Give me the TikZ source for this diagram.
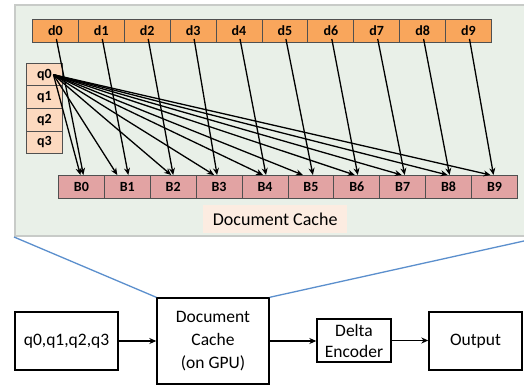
\documentclass[tikz,border=0pt]{standalone}
\usepackage{fontspec}
\setmainfont{Carlito}
\usetikzlibrary{arrows.meta,calc}
\definecolor{panelfill}{RGB}{233,240,232}
\definecolor{panelline}{RGB}{200,203,200}
\definecolor{dfill}{RGB}{249,166,92}
\definecolor{qfill}{RGB}{252,217,191}
\definecolor{bfill}{RGB}{226,163,163}
\definecolor{labfill}{RGB}{252,236,225}
\definecolor{cellline}{RGB}{80,80,80}
\definecolor{zoomblue}{RGB}{91,143,205}
\begin{document}
\begin{tikzpicture}[x=1pt,y=-1pt,
 cell/.style={draw=cellline, line width=0.9pt, minimum width=45.9pt, minimum height=23pt, inner sep=0pt, font=\fontsize{14}{16}\selectfont\bfseries, anchor=north west},
 dcell/.style={cell, fill=dfill},
 bcell/.style={cell, fill=bfill},
 qcell/.style={cell, fill=qfill, minimum width=36pt, minimum height=22.5pt},
 arr/.style={-{Stealth[length=7pt,width=6pt]}, line width=1.3pt},
 box/.style={draw, line width=1.4pt, font=\fontsize{17.5}{23}\selectfont, align=center, inner sep=0pt},
 flow/.style={-{Stealth[length=7pt,width=6pt]}, line width=1.4pt},
 zoomline/.style={draw=zoomblue, line width=1.3pt}]
\useasboundingbox (0,0) rectangle (524,385);
\fill[white] (0,0) rectangle (524,385);
\node[draw=panelline, line width=2pt, fill=panelfill, minimum width=526pt, minimum height=231pt, anchor=north west, inner sep=0pt] (panel) at (14,4) {};
\foreach \i in {0,...,9} {
  \node[dcell] (d\i) at ({32+45.9*\i},19) {d\i};
  \node[bcell] (B\i) at ({58+45.9*\i},175) {B\i};
}
\foreach \i in {0,...,3} \node[qcell] (q\i) at (26,{63+22.5*\i}) {q\i};
\node[fill=labfill, minimum width=144pt, minimum height=28pt, anchor=north west, inner sep=0pt, font=\fontsize{18}{20}\selectfont] (lab) at (203,205) {Document Cache};
\coordinate (qs) at ($(q0.center)+(9,0)$);
\foreach \i/\qd/\dd in {0/-1/2, 1/-10/1, 2/-2/0, 3/-5/-2, 4/-2/1, 5/-8/2, 6/-2/1, 7/-1/2, 8/-1/1, 9/-4/-1} {
  \draw[arr] ($(d\i.center)+(1,8)$) -- ($(B\i.north)+(\dd,0)$);
  \draw[arr] (qs) -- ($(B\i.north)+(\qd,0)$);
}
% bottom pipeline
\node[box, minimum width=103pt, minimum height=58pt] (qb) at (66.5,341) {q0,q1,q2,q3};
\node[box, minimum width=112pt, minimum height=86pt] (dc) at (213,341) {Document\\Cache\\(on GPU)};
\node[box, minimum width=74pt, minimum height=43pt, font=\fontsize{17.5}{21}\selectfont] (de) at (354,340.5) {Delta\\Encoder};
\node[box, minimum width=93pt, minimum height=58pt] (out) at (475.5,341) {Output};
\draw[zoomline] (panel.south west) -- (dc.north west);
\draw[zoomline] (panel.south east) -- (dc.north east);
\draw[flow] (qb) -- (dc);
\draw[flow] (dc.east) -- (de.west |- dc.east);
\draw[flow] (de.east) -- (out.west |- de.east);
\end{tikzpicture}
\end{document}
